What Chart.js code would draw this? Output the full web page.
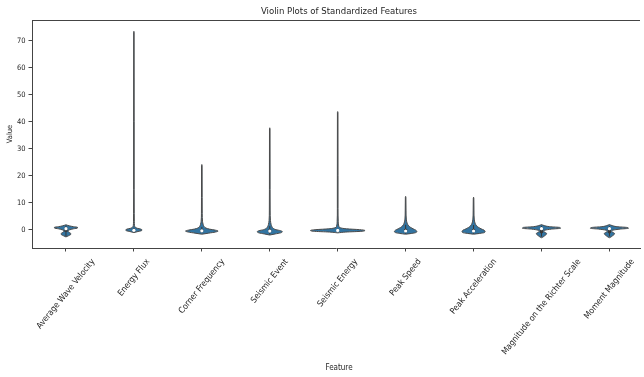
<!DOCTYPE html>
<html>
<head>
<meta charset="utf-8">
<script src="https://cdn.jsdelivr.net/npm/chart.js@4.4.1/dist/chart.umd.min.js"></script>
<style>
  html, body { margin: 0; padding: 0; background: #fff; overflow: hidden; }
  #wrap { width: 644px; height: 377px; }
</style>
</head>
<body>
<div id="wrap"><canvas id="violins" width="644" height="377"></canvas></div>
<script>
// chart data
var chartTitle = 'Violin Plots of Standardized Features';
var features = [
  'Average Wave Velocity', 'Energy Flux', 'Corner Frequency',
  'Seismic Event', 'Seismic Energy', 'Peak Speed',
  'Peak Acceleration', 'Magnitude on the Richter Scale', 'Moment Magnitude'
];
var yTicks = [0, 10, 20, 30, 40, 50, 60, 70];

// outline of each violin: values (bottom to top) and half widths at those values
var violinLevels = [
  [-2.6, -2.2, -1.8, -1.5, -1.2, -0.8, -0.4, 0, 0.4, 0.7, 0.95, 1.2, 1.5, 1.9],
  [-1.0, -0.6, -0.3, 0, 0.3, 0.6, 1.0, 1.6, 3, 6, 15, 40, 73.2, 73.5],
  [-1.6, -1.2, -0.8, -0.4, -0.1, 0.3, 0.7, 1.2, 2, 3.2, 6, 12, 23.9, 24.2],
  [-1.9, -1.5, -1.1, -0.7, -0.3, 0.1, 0.6, 1.2, 2, 3.5, 7, 15, 37.5, 37.8],
  [-1.1, -0.8, -0.5, -0.2, 0.1, 0.4, 0.8, 1.4, 3, 8, 20, 43.5, 43.8],
  [-1.6, -1.3, -1.0, -0.6, -0.1, 0.4, 0.9, 1.5, 2.5, 4, 7, 12.1, 12.4],
  [-1.6, -1.3, -1.0, -0.6, -0.1, 0.4, 0.9, 1.5, 2.5, 4, 7, 11.8, 12.1],
  [-2.9, -2.5, -2.1, -1.7, -1.3, -0.9, -0.5, -0.1, 0.3, 0.6, 0.9, 1.2, 1.6, 2.0],
  [-2.9, -2.5, -2.1, -1.7, -1.3, -0.9, -0.5, -0.1, 0.3, 0.6, 0.9, 1.2, 1.6, 2.0]
];
var violinWidths = [
  [0, 0.035, 0.065, 0.075, 0.065, 0.04, 0.03, 0.05, 0.11, 0.17, 0.17, 0.11, 0.05, 0],
  [0, 0.06, 0.11, 0.12, 0.1, 0.05, 0.02, 0.009, 0.006, 0.005, 0.004, 0.004, 0.003, 0],
  [0, 0.1, 0.2, 0.24, 0.2, 0.11, 0.06, 0.035, 0.02, 0.01, 0.006, 0.005, 0.004, 0],
  [0, 0.08, 0.16, 0.185, 0.16, 0.09, 0.05, 0.032, 0.02, 0.01, 0.006, 0.005, 0.004, 0],
  [0, 0.12, 0.36, 0.4, 0.32, 0.13, 0.04, 0.016, 0.008, 0.005, 0.005, 0.004, 0],
  [0, 0.09, 0.15, 0.165, 0.15, 0.11, 0.075, 0.045, 0.022, 0.01, 0.006, 0.004, 0],
  [0, 0.09, 0.16, 0.17, 0.155, 0.11, 0.075, 0.045, 0.022, 0.01, 0.006, 0.004, 0],
  [0, 0.03, 0.05, 0.07, 0.075, 0.05, 0.03, 0.05, 0.15, 0.28, 0.27, 0.12, 0.04, 0],
  [0, 0.03, 0.05, 0.07, 0.075, 0.05, 0.03, 0.05, 0.16, 0.28, 0.26, 0.11, 0.04, 0]
];
// inner box: [q1, median, q3] and whiskers [low, high]
var quartiles = [
  [-0.7, 0.45, 0.85], [-0.35, -0.15, 0.15], [-0.6, -0.35, 0.1],
  [-0.8, -0.45, 0.15], [-0.35, -0.2, 0.0], [-0.75, -0.4, 0.35],
  [-0.7, -0.4, 0.3], [-1.2, 0.45, 0.85], [-1.2, 0.45, 0.85]
];
var whiskers = [
  [-2.3, 1.5], [-0.8, 0.8], [-1.1, 1.1],
  [-1.6, 1.4], [-0.6, 0.5], [-1.4, 1.9],
  [-1.4, 1.8], [-2.5, 1.5], [-2.4, 1.4]
];

var fillColor = '#3274a1';
var edgeColor = '#4a4a4a';
var boxColor = '#363636';
var axisColor = '#444';
var textColor = '#262626';
var fontFamily = '"Liberation Sans Narrow", "DejaVu Sans Condensed", "Liberation Sans", sans-serif';

function buildDatasets() {
  var sets = [];
  features.forEach((name, i) => {
    var left = violinLevels[i].map((v, k) => ({x: i - violinWidths[i][k], y: v}));
    var right = violinLevels[i].map((v, k) => ({x: i + violinWidths[i][k], y: v}));
    sets.push({
      data: left, showLine: true, fill: false, order: 3,
      borderColor: edgeColor, borderWidth: 1, pointRadius: 0,
      cubicInterpolationMode: 'monotone'
    });
    sets.push({
      data: right, showLine: true, fill: '-1', order: 3,
      backgroundColor: fillColor, borderColor: edgeColor, borderWidth: 1, pointRadius: 0,
      cubicInterpolationMode: 'monotone'
    });
    sets.push({
      data: [{x: i, y: whiskers[i][0]}, {x: i, y: whiskers[i][1]}],
      showLine: true, order: 2, borderColor: boxColor, borderWidth: 1, pointRadius: 0
    });
    sets.push({
      data: [{x: i, y: quartiles[i][0]}, {x: i, y: quartiles[i][2]}],
      showLine: true, order: 1, borderColor: boxColor, borderWidth: 3.2, pointRadius: 0
    });
    sets.push({
      data: [{x: i, y: quartiles[i][1]}],
      showLine: false, order: 0, pointRadius: 1.6, pointBorderWidth: 0,
      pointBackgroundColor: '#fff'
    });
  });
  return sets;
}

var textPlugin = {
  id: 'featureText',
  afterDraw(chart) {
    var ctx = chart.ctx;
    var area = chart.chartArea;
    var xs = chart.scales.x;
    var angle = 51 * Math.PI / 180;

    ctx.save();
    // top spine
    ctx.strokeStyle = axisColor;
    ctx.lineWidth = 1;
    ctx.beginPath();
    ctx.moveTo(area.left, area.top + 0.5);
    ctx.lineTo(area.right, area.top + 0.5);
    ctx.stroke();

    ctx.fillStyle = textColor;
    ctx.textAlign = 'center';
    ctx.textBaseline = 'middle';
    ctx.font = '9.5px ' + fontFamily;
    ctx.fillText(chartTitle, 339, 12);

    // rotated category labels, centred under their ticks
    ctx.font = '8.5px ' + fontFamily;
    features.forEach((name, i) => {
      var w = ctx.measureText(name).width;
      var h = 7;
      var bh = w * Math.sin(angle) + h * Math.cos(angle);
      ctx.save();
      ctx.translate(xs.getPixelForValue(i), 258 + bh / 2);
      ctx.rotate(-angle);
      ctx.fillText(name, 0, 0);
      ctx.restore();
    });

    ctx.font = '8px ' + fontFamily;
    ctx.fillText('Feature', 339, 368);
    ctx.restore();
  }
};

new Chart(document.getElementById('violins'), {
  type: 'scatter',
  data: {datasets: buildDatasets()},
  plugins: [textPlugin],
  options: {
    responsive: false,
    animation: false,
    indexAxis: 'y',
    layout: {padding: {top: 20, left: 0, right: 0, bottom: 0}},
    plugins: {legend: {display: false}, tooltip: {enabled: false}, title: {display: false}},
    scales: {
      x: {
        type: 'linear', min: -0.5, max: 8.45,
        afterBuildTicks: (s) => { s.ticks = features.map((f, i) => ({value: i})); },
        afterFit: (s) => { s.height = 129; },
        ticks: {display: false},
        grid: {drawOnChartArea: false, tickLength: 3.5, color: axisColor},
        border: {color: axisColor, width: 1}
      },
      y: {
        type: 'linear', min: -6.7, max: 77.7,
        afterBuildTicks: (s) => { s.ticks = yTicks.map((v) => ({value: v})); },
        afterFit: (s) => { s.width = 32; },
        ticks: {color: textColor, padding: 3, font: {family: fontFamily, size: 7.5}},
        grid: {drawOnChartArea: false, tickLength: 3.5, color: axisColor},
        border: {color: axisColor, width: 1},
        title: {display: true, text: 'Value', color: textColor, padding: {top: 6, bottom: 0},
          font: {family: fontFamily, size: 7.5}}
      }
    }
  }
});
</script>
</body>
</html>
